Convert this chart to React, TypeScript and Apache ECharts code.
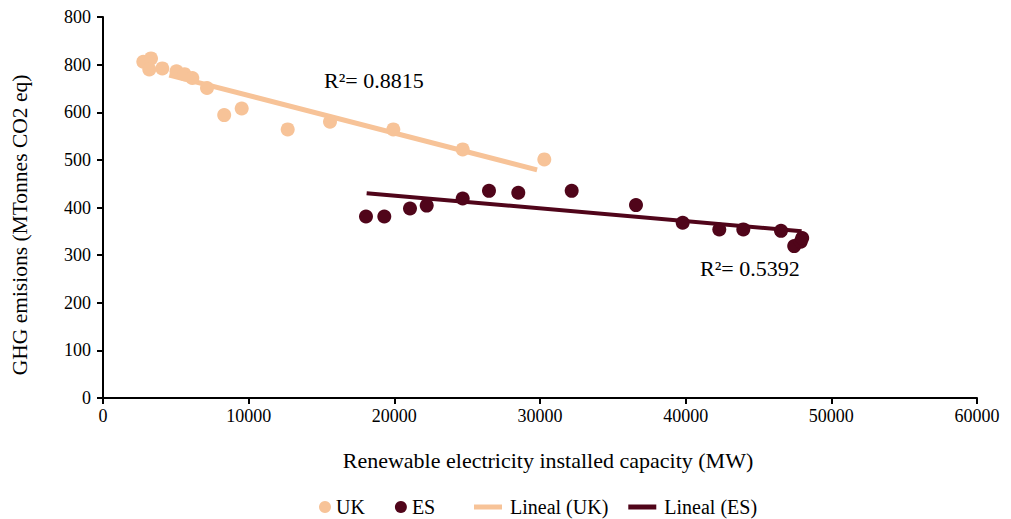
import React, { useEffect, useRef } from "react";
import * as echarts from "echarts";

const ukPoints: [number, number][] = [
  [2767, 706], [3295, 713], [3178, 690], [4071, 692], [5046, 686],
  [5595, 680], [6130, 672], [7140, 651], [8320, 594], [9521, 608],
  [12680, 564], [15583, 580], [19929, 564], [24693, 522], [30295, 501],
];
const esPoints: [number, number][] = [
  [18054, 381], [19311, 381], [21075, 398], [22221, 404], [24693, 419],
  [26498, 435], [28510, 431], [32175, 435], [36590, 405], [39795, 368],
  [42308, 354], [43956, 354], [46544, 351], [47450, 319], [47900, 328], [48000, 336],
];
const ukTrend: [number, number][] = [[4550, 678], [29800, 479]];
const esTrend: [number, number][] = [[18100, 430], [47960, 350]];
const yTickLabels = ["0", "100", "200", "300", "400", "500", "600", "800", "800"];
const xTickLabels = ["0", "10000", "20000", "30000", "40000", "50000", "60000"];
const r2Labels = ["R\u00B2= 0.8815", "R\u00B2= 0.5392"];

const UK_COLOR = "#F7C398";
const ES_COLOR = "#50051A";
const FONT = "'Liberation Serif', 'DejaVu Serif', serif";

export default function App() {
  const ref = useRef<HTMLDivElement>(null);
  useEffect(() => {
    if (!ref.current) return;
    const chart = echarts.init(ref.current, undefined, { renderer: "svg" });
    chart.setOption({
      animation: false,
      backgroundColor: "#ffffff",
      grid: { left: 103, right: 34, top: 17, bottom: 121 },
      xAxis: {
        type: "value",
        min: 0,
        max: 60000,
        interval: 10000,
        splitLine: { show: false },
        axisLine: { show: true, onZero: false, lineStyle: { color: "#000", width: 2 } },
        axisTick: { show: true, length: 6, lineStyle: { color: "#000", width: 2 } },
        axisLabel: {
          color: "#000", fontFamily: FONT, fontSize: 18, margin: 9,
          formatter: (v: number) => xTickLabels[Math.round(v / 10000)] ?? "",
        },
        name: "Renewable electricity installed capacity (MW)",
        nameLocation: "middle",
        nameGap: 51,
        nameTextStyle: { color: "#000", fontFamily: FONT, fontSize: 22, padding: [0, 0, 0, 16] },
      },
      yAxis: {
        type: "value",
        min: 0,
        max: 800,
        interval: 100,
        splitLine: { show: false },
        axisLine: { show: true, lineStyle: { color: "#000", width: 2 } },
        axisTick: { show: true, length: 6, lineStyle: { color: "#000", width: 2 } },
        axisLabel: {
          color: "#000", fontFamily: FONT, fontSize: 18, margin: 12,
          formatter: (v: number) => yTickLabels[Math.round(v / 100)] ?? "",
        },
      },
      legend: [
        {
          data: ["UK", "ES"],
          left: 314,
          top: 492,
          icon: "circle",
          itemWidth: 12,
          itemHeight: 12,
          itemGap: 30,
          textStyle: { color: "#000", fontFamily: FONT, fontSize: 20, lineHeight: 20 },
        },
        {
          data: ["Lineal (UK)", "Lineal (ES)"],
          left: 469,
          top: 492,
          icon: "rect",
          itemWidth: 28,
          itemHeight: 5,
          itemGap: 20,
          textStyle: { color: "#000", fontFamily: FONT, fontSize: 20, lineHeight: 20, padding: [0, 0, 0, 3] },
        },
      ],
      graphic: [
        {
          type: "text",
          x: 20,
          y: 225,
          rotation: Math.PI / 2,
          style: {
            text: "GHG emisions (MTonnes CO2 eq)",
            fill: "#000",
            font: `21.5px ${FONT}`,
            textAlign: "center",
            textVerticalAlign: "middle",
            align: "center",
            verticalAlign: "middle",
          },
        },
        {
          type: "text",
          x: 324,
          y: 69,
          style: { text: r2Labels[0], fill: "#000", font: `22px ${FONT}` },
        },
        {
          type: "text",
          x: 700,
          y: 257,
          style: { text: r2Labels[1], fill: "#000", font: `22px ${FONT}` },
        },
      ],
      series: [
        {
          name: "Lineal (UK)",
          type: "line",
          data: ukTrend,
          showSymbol: false,
          lineStyle: { color: UK_COLOR, width: 5 },
          itemStyle: { color: UK_COLOR },
          z: 1,
        },
        {
          name: "Lineal (ES)",
          type: "line",
          data: esTrend,
          showSymbol: false,
          lineStyle: { color: ES_COLOR, width: 4 },
          itemStyle: { color: ES_COLOR },
          z: 1,
        },
        {
          name: "UK",
          type: "scatter",
          data: ukPoints,
          symbolSize: 14,
          itemStyle: { color: UK_COLOR, opacity: 1 },
          z: 2,
        },
        {
          name: "ES",
          type: "scatter",
          data: esPoints,
          symbolSize: 14,
          itemStyle: { color: ES_COLOR, opacity: 1 },
          z: 2,
        },
      ],
    });
    return () => chart.dispose();
  }, []);
  return <div ref={ref} style={{ width: 1011, height: 519, position: "absolute", left: 0, top: 0 }} />;
}
